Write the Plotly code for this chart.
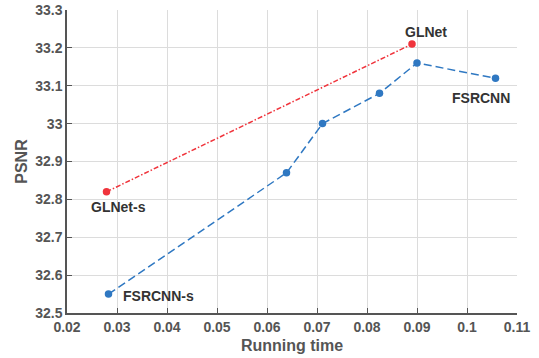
import plotly.graph_objects as go

fsrcnn_time = [0.0283, 0.0639, 0.0711, 0.0825, 0.0900, 0.1057]
fsrcnn_psnr = [32.55, 32.87, 33.00, 33.08, 33.16, 33.12]
glnet_time = [0.0279, 0.0890]
glnet_psnr = [32.82, 33.21]

labels = [
    ("GLNet", 0.0890, 33.21, 14, 12),
    ("FSRCNN", 0.1057, 33.12, -15, -20),
    ("GLNet-s", 0.0279, 32.82, 12, -15),
    ("FSRCNN-s", 0.0283, 32.55, 50, -2),
]

blue = "#2F78C2"
red = "#F0343C"
font = "Liberation Sans"

fig = go.Figure()
fig.add_trace(go.Scatter(x=fsrcnn_time, y=fsrcnn_psnr, mode="lines+markers",
                         line=dict(color=blue, width=1.5, dash="8px,4px"),
                         marker=dict(color=blue, size=7.5)))
fig.add_trace(go.Scatter(x=glnet_time, y=glnet_psnr, mode="lines+markers",
                         line=dict(color=red, width=1.5, dash="5px,2px,1.5px,2px"),
                         marker=dict(color=red, size=7.5)))

for text, x, y, xs, ys in labels:
    fig.add_annotation(x=x, y=y, text=text, showarrow=False,
                       xshift=xs, yshift=ys,
                       font=dict(family=font, size=14, color="#333333", weight="bold"))

axis_common = dict(showgrid=True, gridcolor="#DCDCDC", gridwidth=1,
                   showline=True, linecolor="#555555", linewidth=1.5,
                   ticks="inside", ticklen=5, tickcolor="#555555",
                   tickfont=dict(family=font, size=14, color="#555555", weight="bold"),
                   zeroline=False, automargin=False)

fig.update_xaxes(range=[0.02, 0.11], tickvals=[0.02, 0.03, 0.04, 0.05, 0.06, 0.07, 0.08, 0.09, 0.1, 0.11],
                 ticktext=["0.02", "0.03", "0.04", "0.05", "0.06", "0.07", "0.08", "0.09", "0.1", "0.11"],
                 title=dict(text="Running time", font=dict(family=font, size=16, color="#555555", weight="bold"), standoff=6),
                 **axis_common)
fig.update_yaxes(range=[32.5, 33.3], tickvals=[32.5, 32.6, 32.7, 32.8, 32.9, 33.0, 33.1, 33.2, 33.3],
                 ticktext=["32.5", "32.6", "32.7", "32.8", "32.9", "33", "33.1", "33.2", "33.3"],
                 title=dict(text="PSNR", font=dict(family=font, size=16, color="#555555", weight="bold"), standoff=4),
                 **axis_common)

fig.update_layout(width=539, height=358, showlegend=False,
                  margin=dict(l=67, r=22, t=10, b=45),
                  plot_bgcolor="white", paper_bgcolor="white")

fig.write_html("out.html", config={"displayModeBar": False},
               post_script="document.body.style.margin='0';")
